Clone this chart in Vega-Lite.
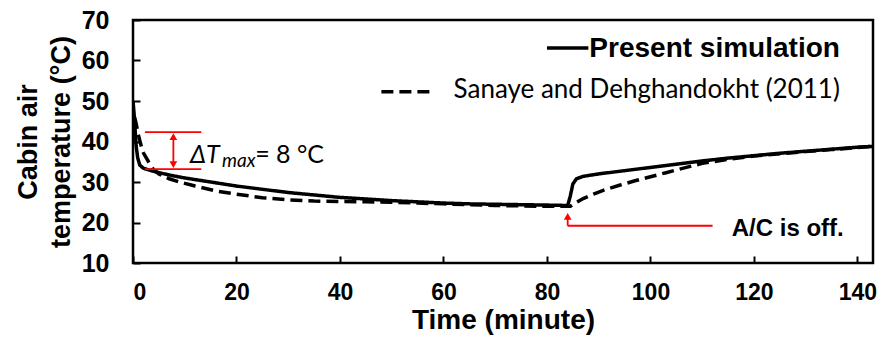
{
  "$schema": "https://vega.github.io/schema/vega-lite/v6.json",
  "width": 740,
  "height": 243,
  "autosize": "none",
  "padding": {"left": 133, "top": 20, "right": 4, "bottom": 84},
  "config": {
    "view": {"stroke": "black", "strokeWidth": 2.5},
    "font": "Liberation Sans"
  },
  "datasets": {
    "curves": [
      {"t": 0, "T": 50, "series": "Present simulation"},
      {"t": 0.2, "T": 47, "series": "Present simulation"},
      {"t": 0.4, "T": 43, "series": "Present simulation"},
      {"t": 0.6, "T": 39, "series": "Present simulation"},
      {"t": 0.9, "T": 36, "series": "Present simulation"},
      {"t": 1.3, "T": 34.2, "series": "Present simulation"},
      {"t": 2, "T": 33.4, "series": "Present simulation"},
      {"t": 3, "T": 33, "series": "Present simulation"},
      {"t": 5, "T": 32.3, "series": "Present simulation"},
      {"t": 7.5, "T": 31.6, "series": "Present simulation"},
      {"t": 10, "T": 31, "series": "Present simulation"},
      {"t": 15, "T": 30, "series": "Present simulation"},
      {"t": 20, "T": 29, "series": "Present simulation"},
      {"t": 25, "T": 28.2, "series": "Present simulation"},
      {"t": 30, "T": 27.4, "series": "Present simulation"},
      {"t": 35, "T": 26.8, "series": "Present simulation"},
      {"t": 40, "T": 26.2, "series": "Present simulation"},
      {"t": 45, "T": 25.8, "series": "Present simulation"},
      {"t": 50, "T": 25.4, "series": "Present simulation"},
      {"t": 55, "T": 25.1, "series": "Present simulation"},
      {"t": 60, "T": 24.8, "series": "Present simulation"},
      {"t": 65, "T": 24.6, "series": "Present simulation"},
      {"t": 70, "T": 24.5, "series": "Present simulation"},
      {"t": 75, "T": 24.4, "series": "Present simulation"},
      {"t": 80, "T": 24.3, "series": "Present simulation"},
      {"t": 84, "T": 24.2, "series": "Present simulation"},
      {"t": 84.5, "T": 26.5, "series": "Present simulation"},
      {"t": 85, "T": 29.5, "series": "Present simulation"},
      {"t": 85.7, "T": 30.8, "series": "Present simulation"},
      {"t": 87, "T": 31.4, "series": "Present simulation"},
      {"t": 90, "T": 32, "series": "Present simulation"},
      {"t": 95, "T": 32.8, "series": "Present simulation"},
      {"t": 100, "T": 33.6, "series": "Present simulation"},
      {"t": 105, "T": 34.4, "series": "Present simulation"},
      {"t": 110, "T": 35.2, "series": "Present simulation"},
      {"t": 115, "T": 35.9, "series": "Present simulation"},
      {"t": 120, "T": 36.5, "series": "Present simulation"},
      {"t": 125, "T": 37.1, "series": "Present simulation"},
      {"t": 130, "T": 37.6, "series": "Present simulation"},
      {"t": 135, "T": 38.1, "series": "Present simulation"},
      {"t": 140, "T": 38.6, "series": "Present simulation"},
      {"t": 143, "T": 38.8, "series": "Present simulation"},
      {"t": 0.3, "T": 46, "series": "Sanaye and Dehghandokht (2011)"},
      {"t": 0.6, "T": 44.5, "series": "Sanaye and Dehghandokht (2011)"},
      {"t": 1, "T": 41.8, "series": "Sanaye and Dehghandokht (2011)"},
      {"t": 1.5, "T": 39.3, "series": "Sanaye and Dehghandokht (2011)"},
      {"t": 2, "T": 37.2, "series": "Sanaye and Dehghandokht (2011)"},
      {"t": 3, "T": 35, "series": "Sanaye and Dehghandokht (2011)"},
      {"t": 4, "T": 33, "series": "Sanaye and Dehghandokht (2011)"},
      {"t": 5, "T": 32, "series": "Sanaye and Dehghandokht (2011)"},
      {"t": 7, "T": 30.8, "series": "Sanaye and Dehghandokht (2011)"},
      {"t": 9, "T": 30, "series": "Sanaye and Dehghandokht (2011)"},
      {"t": 12, "T": 29, "series": "Sanaye and Dehghandokht (2011)"},
      {"t": 16, "T": 27.8, "series": "Sanaye and Dehghandokht (2011)"},
      {"t": 20, "T": 27, "series": "Sanaye and Dehghandokht (2011)"},
      {"t": 25, "T": 26.1, "series": "Sanaye and Dehghandokht (2011)"},
      {"t": 30, "T": 25.6, "series": "Sanaye and Dehghandokht (2011)"},
      {"t": 35, "T": 25.3, "series": "Sanaye and Dehghandokht (2011)"},
      {"t": 40, "T": 25.2, "series": "Sanaye and Dehghandokht (2011)"},
      {"t": 45, "T": 25.1, "series": "Sanaye and Dehghandokht (2011)"},
      {"t": 50, "T": 25, "series": "Sanaye and Dehghandokht (2011)"},
      {"t": 55, "T": 24.8, "series": "Sanaye and Dehghandokht (2011)"},
      {"t": 60, "T": 24.6, "series": "Sanaye and Dehghandokht (2011)"},
      {"t": 65, "T": 24.4, "series": "Sanaye and Dehghandokht (2011)"},
      {"t": 70, "T": 24.2, "series": "Sanaye and Dehghandokht (2011)"},
      {"t": 75, "T": 24.1, "series": "Sanaye and Dehghandokht (2011)"},
      {"t": 80, "T": 24, "series": "Sanaye and Dehghandokht (2011)"},
      {"t": 84.5, "T": 24, "series": "Sanaye and Dehghandokht (2011)"},
      {"t": 85.5, "T": 24.8, "series": "Sanaye and Dehghandokht (2011)"},
      {"t": 87, "T": 25.9, "series": "Sanaye and Dehghandokht (2011)"},
      {"t": 89, "T": 27, "series": "Sanaye and Dehghandokht (2011)"},
      {"t": 91, "T": 28, "series": "Sanaye and Dehghandokht (2011)"},
      {"t": 94, "T": 29.2, "series": "Sanaye and Dehghandokht (2011)"},
      {"t": 97, "T": 30.3, "series": "Sanaye and Dehghandokht (2011)"},
      {"t": 100, "T": 31.3, "series": "Sanaye and Dehghandokht (2011)"},
      {"t": 103, "T": 32.3, "series": "Sanaye and Dehghandokht (2011)"},
      {"t": 106, "T": 33.3, "series": "Sanaye and Dehghandokht (2011)"},
      {"t": 110, "T": 34.6, "series": "Sanaye and Dehghandokht (2011)"},
      {"t": 115, "T": 35.6, "series": "Sanaye and Dehghandokht (2011)"},
      {"t": 120, "T": 36.4, "series": "Sanaye and Dehghandokht (2011)"},
      {"t": 125, "T": 37, "series": "Sanaye and Dehghandokht (2011)"},
      {"t": 130, "T": 37.5, "series": "Sanaye and Dehghandokht (2011)"},
      {"t": 135, "T": 38, "series": "Sanaye and Dehghandokht (2011)"},
      {"t": 140, "T": 38.5, "series": "Sanaye and Dehghandokht (2011)"},
      {"t": 143, "T": 38.8, "series": "Sanaye and Dehghandokht (2011)"}
    ],
    "redH": [
      {"t": 2.3, "t2": 13.2, "T": 42.3},
      {"t": 2.3, "t2": 13.2, "T": 33.2},
      {"t": 84, "t2": 112, "T": 19.2}
    ],
    "redV": [
      {"t": 7.8, "T": 41.2, "T2": 34.3},
      {"t": 84, "T": 19.2, "T2": 21.2}
    ],
    "heads": [
      {"t": 7.8, "T": 41.2, "shape": "triangle-up"},
      {"t": 7.8, "T": 34.3, "shape": "triangle-down"},
      {"t": 84, "T": 21.5, "shape": "triangle-up"}
    ],
    "legendRules": [
      {"t": 80, "t2": 88, "T": 63.1, "series": "Present simulation"},
      {"t": 48, "t2": 58.4, "T": 52.3, "series": "Sanaye and Dehghandokht (2011)"}
    ]
  },
  "layer": [
    {
      "data": {"name": "curves"},
      "mark": {"type": "line", "color": "black", "strokeWidth": 3.5, "clip": true},
      "encoding": {
        "x": {
          "field": "t", "type": "quantitative",
          "scale": {"domain": [0, 143], "nice": false},
          "axis": {
            "values": [0, 20, 40, 60, 80, 100, 120, 140],
            "domain": false, "grid": false,
            "tickSize": -7, "tickWidth": 2, "tickColor": "black",
            "labelFont": "Liberation Sans", "labelFontWeight": "bold", "labelFontSize": 23,
            "labelColor": "black", "labelPadding": 25, "labelOverlap": false, "labelBound": false,
            "title": "Time (minute)", "titleFont": "Liberation Sans", "titleFontWeight": "bold",
            "titleFontSize": 28, "titleColor": "black", "titlePadding": 2
          }
        },
        "y": {
          "field": "T", "type": "quantitative",
          "scale": {"domain": [10, 70], "nice": false},
          "axis": {
            "values": [10, 20, 30, 40, 50, 60, 70],
            "domain": false, "grid": false,
            "tickSize": -7, "tickWidth": 2, "tickColor": "black",
            "labelFont": "Liberation Sans", "labelFontWeight": "bold", "labelFontSize": 25,
            "labelColor": "black", "labelPadding": 31,
            "title": ["Cabin air", "temperature (°C)"], "titleFont": "Liberation Sans", "titleFontWeight": "bold",
            "titleFontSize": 27, "titleColor": "black", "titleLineHeight": 33, "titlePadding": 6
          }
        },
        "strokeDash": {
          "field": "series", "type": "nominal",
          "scale": {"domain": ["Present simulation", "Sanaye and Dehghandokht (2011)"], "range": [[1, 0], [12, 6]]},
          "legend": null
        },
        "order": {"field": "t", "type": "quantitative"}
      }
    },
    {
      "data": {"name": "legendRules"},
      "mark": {"type": "rule", "color": "black", "strokeWidth": 3.5},
      "encoding": {
        "x": {"field": "t", "type": "quantitative"},
        "x2": {"field": "t2"},
        "y": {"field": "T", "type": "quantitative"},
        "strokeDash": {
          "field": "series", "type": "nominal",
          "scale": {"domain": ["Present simulation", "Sanaye and Dehghandokht (2011)"], "range": [[1, 0], [13, 5]]},
          "legend": null
        }
      }
    },
    {
      "data": {"values": [{"t": 136.6, "T": 60.9, "label": "Present simulation"}]},
      "mark": {"type": "text", "align": "right", "baseline": "alphabetic", "fontSize": 28, "fontWeight": "bold", "font": "Liberation Sans", "color": "black"},
      "encoding": {
        "x": {"field": "t", "type": "quantitative"},
        "y": {"field": "T", "type": "quantitative"},
        "text": {"field": "label"}
      }
    },
    {
      "data": {"values": [{"t": 136.6, "T": 50.7, "label": "Sanaye and Dehghandokht (2011)"}]},
      "mark": {"type": "text", "align": "right", "baseline": "alphabetic", "fontSize": 26, "font": "Lato", "color": "black"},
      "encoding": {
        "x": {"field": "t", "type": "quantitative"},
        "y": {"field": "T", "type": "quantitative"},
        "text": {"field": "label"}
      }
    },
    {
      "data": {"name": "redH"},
      "mark": {"type": "rule", "color": "#ff0000", "strokeWidth": 1.8},
      "encoding": {
        "x": {"field": "t", "type": "quantitative"},
        "x2": {"field": "t2"},
        "y": {"field": "T", "type": "quantitative"}
      }
    },
    {
      "data": {"name": "redV"},
      "mark": {"type": "rule", "color": "#ff0000", "strokeWidth": 1.8},
      "encoding": {
        "x": {"field": "t", "type": "quantitative"},
        "y": {"field": "T", "type": "quantitative"},
        "y2": {"field": "T2"}
      }
    },
    {
      "data": {"name": "heads"},
      "mark": {"type": "point", "filled": true, "color": "#ff0000", "size": 60, "opacity": 1},
      "encoding": {
        "x": {"field": "t", "type": "quantitative"},
        "y": {"field": "T", "type": "quantitative"},
        "shape": {"field": "shape", "type": "nominal", "scale": null}
      }
    },
    {
      "data": {"values": [{"t": 11.0, "T": 34.6, "label": "ΔT"}]},
      "mark": {"type": "text", "align": "left", "baseline": "alphabetic", "fontSize": 25, "font": "Lato", "fontStyle": "italic", "color": "black"},
      "encoding": {
        "x": {"field": "t", "type": "quantitative"},
        "y": {"field": "T", "type": "quantitative"},
        "text": {"field": "label"}
      }
    },
    {
      "data": {"values": [{"t": 17.2, "T": 33.6, "label": "max"}]},
      "mark": {"type": "text", "align": "left", "baseline": "alphabetic", "fontSize": 19, "font": "Lato", "fontStyle": "italic", "color": "black"},
      "encoding": {
        "x": {"field": "t", "type": "quantitative"},
        "y": {"field": "T", "type": "quantitative"},
        "text": {"field": "label"}
      }
    },
    {
      "data": {"values": [{"t": 23.6, "T": 34.6, "label": "= 8 °C"}]},
      "mark": {"type": "text", "align": "left", "baseline": "alphabetic", "fontSize": 25, "font": "Lato", "color": "black"},
      "encoding": {
        "x": {"field": "t", "type": "quantitative"},
        "y": {"field": "T", "type": "quantitative"},
        "text": {"field": "label"}
      }
    },
    {
      "data": {"values": [{"t": 115.7, "T": 18.4, "label": "A/C is off."}]},
      "mark": {"type": "text", "align": "left", "baseline": "middle", "fontSize": 24, "fontWeight": "bold", "font": "Liberation Sans", "color": "black"},
      "encoding": {
        "x": {"field": "t", "type": "quantitative"},
        "y": {"field": "T", "type": "quantitative"},
        "text": {"field": "label"}
      }
    }
  ]
}
